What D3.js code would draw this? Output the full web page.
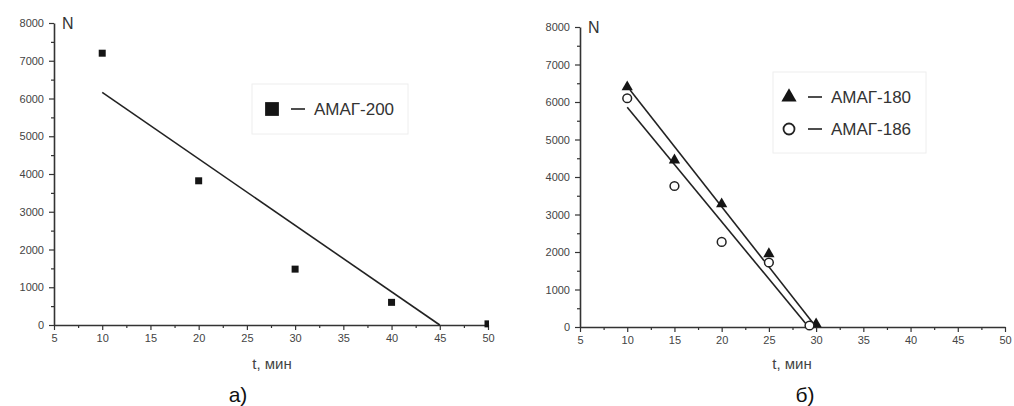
<!DOCTYPE html>
<html>
<head>
  <meta charset="UTF-8">
  <title>N(t) - АМАГ</title>
  <script src="https://cdnjs.cloudflare.com/ajax/libs/d3/7.8.5/d3.min.js"></script>
  <style>
    body { margin: 0; background: #fff; }
    svg { display: block; font-family: "Liberation Sans", Arial, sans-serif; }
    .axis path, .axis line { stroke: #333; }
    .axis text { fill: #444; font-size: 11px; }
  </style>
</head>
<body>
<svg id="chart" width="1014" height="406"></svg>
<script>
// Tick values
var xTicks = [5, 10, 15, 20, 25, 30, 35, 40, 45, 50];
var yTicks = [0, 1000, 2000, 3000, 4000, 5000, 6000, 7000, 8000];

// Panel a) АМАГ-200
var amag200T = [10, 20, 30, 40, 50];
var amag200N = [7200, 3820, 1480, 600, 30];
var fit200 = [[10, 6160], [45, 0]];

// Panel b) АМАГ-180, АМАГ-186
var amag180T = [10, 15, 20, 25, 30];
var amag180N = [6400, 4450, 3280, 1950, 80];
var fit180 = [[10.3, 6320], [30, 0]];
var amag186T = [10, 15, 20, 25, 29.3];
var amag186N = [6100, 3760, 2270, 1720, 40];
var fit186 = [[10, 5860], [29.2, 0]];

var svg = d3.select('#chart');

function drawPanel(p) {
  var x = d3.scaleLinear().domain([5, 50]).range([p.x0, p.x1]);
  var y = d3.scaleLinear().domain([0, 8000]).range([p.y0, p.y1]);
  var g = svg.append('g');

  // minor ticks
  g.append('g').attr('class', 'axis')
    .attr('transform', 'translate(0,' + p.y0 + ')')
    .call(d3.axisBottom(x).tickValues(d3.range(7.5, 50, 5)).tickSize(3).tickFormat(''))
    .select('.domain').remove();
  g.append('g').attr('class', 'axis')
    .attr('transform', 'translate(' + p.x0 + ',0)')
    .call(d3.axisLeft(y).tickValues(d3.range(500, 8000, 1000)).tickSize(3).tickFormat(''))
    .select('.domain').remove();

  // major axes
  g.append('g').attr('class', 'axis')
    .attr('transform', 'translate(0,' + p.y0 + ')')
    .call(d3.axisBottom(x).tickValues(xTicks).tickSize(5).tickSizeOuter(0).tickPadding(4));
  g.append('g').attr('class', 'axis')
    .attr('transform', 'translate(' + p.x0 + ',0)')
    .call(d3.axisLeft(y).tickValues(yTicks).tickFormat(d3.format('d'))
      .tickSize(5).tickSizeOuter(0).tickPadding(5));
  g.selectAll('.axis .domain').attr('stroke-width', 1.6);
  g.selectAll('.axis line').attr('stroke-width', 1.2);

  // axis titles
  g.append('text').attr('x', p.x0 + 8).attr('y', y(8000) + 6)
    .attr('font-size', 16).attr('fill', '#333').text('N');
  g.append('text').attr('x', p.titleX).attr('y', 369).attr('text-anchor', 'middle')
    .attr('font-size', 15).attr('fill', '#444').text('t, мин');
  g.append('text').attr('x', p.capX).attr('y', 402).attr('text-anchor', 'middle')
    .attr('font-size', 21).attr('fill', '#111').text(p.caption);

  // clip so points at the axis end are cut like in the original
  var clipId = 'clip' + p.id;
  svg.append('clipPath').attr('id', clipId).append('rect')
    .attr('x', p.x0 - 20).attr('y', p.y1 - 20)
    .attr('width', p.x1 - p.x0 + 21).attr('height', p.y0 - p.y1 + 30);
  var plot = g.append('g').attr('clip-path', 'url(#' + clipId + ')');

  var line = d3.line().x(function(d) { return x(d[0]); }).y(function(d) { return y(d[1]); });

  p.series.forEach(function(s) {
    plot.append('path').datum(s.fit).attr('d', line)
      .attr('fill', 'none').attr('stroke', '#222').attr('stroke-width', 1.6);
  });
  p.series.forEach(function(s) {
    var pts = s.t.map(function(t, i) { return [t, s.n[i]]; });
    var sym = plot.selectAll(null).data(pts).enter().append('path')
      .attr('transform', function(d) { return 'translate(' + x(d[0]) + ',' + y(d[1]) + ')'; })
      .attr('d', d3.symbol().type(s.symbol).size(s.size));
    if (s.hollow) sym.attr('fill', '#fff').attr('stroke', '#222').attr('stroke-width', 1.5);
    else sym.attr('fill', '#151515');
  });

  // legend (absolute coordinates)
  var L = p.legend;
  g.append('rect').attr('x', L.x).attr('y', L.y).attr('width', L.w).attr('height', L.h)
    .attr('fill', '#fff').attr('stroke', '#eee').attr('stroke-width', 1);
  p.series.forEach(function(s, i) {
    var cy = L.first + i * L.step;
    var m = g.append('path').attr('transform', 'translate(' + L.mx + ',' + cy + ')')
      .attr('d', d3.symbol().type(s.symbol).size(s.legendSize));
    if (s.hollow) m.attr('fill', '#fff').attr('stroke', '#222').attr('stroke-width', 1.8);
    else m.attr('fill', '#151515');
    g.append('line').attr('x1', L.mx + 19).attr('x2', L.mx + 33)
      .attr('y1', cy).attr('y2', cy).attr('stroke', '#222').attr('stroke-width', 1.6);
    g.append('text').attr('x', L.mx + 42).attr('y', cy + 6)
      .attr('font-size', 17).attr('fill', '#333').text(s.name);
  });
}

drawPanel({
  id: 'a', x0: 54, x1: 488, y0: 325, y1: 23, titleX: 272, capX: 238, caption: 'а)',
  legend: { x: 252, y: 84, w: 156, h: 50, mx: 272, first: 109, step: 0 },
  series: [
    { name: 'АМАГ-200', t: amag200T, n: amag200N, fit: fit200,
      symbol: d3.symbolSquare, size: 49, legendSize: 190 }
  ]
});

drawPanel({
  id: 'b', x0: 580, x1: 1005, y0: 327, y1: 27, titleX: 792, capX: 805, caption: 'б)',
  legend: { x: 773, y: 72, w: 153, h: 81, mx: 789, first: 97, step: 32 },
  series: [
    { name: 'АМАГ-180', t: amag180T, n: amag180N, fit: fit180,
      symbol: d3.symbolTriangle, size: 55, legendSize: 100 },
    { name: 'АМАГ-186', t: amag186T, n: amag186N, fit: fit186,
      symbol: d3.symbolCircle, size: 60, legendSize: 95, hollow: true }
  ]
});
</script>
</body>
</html>
